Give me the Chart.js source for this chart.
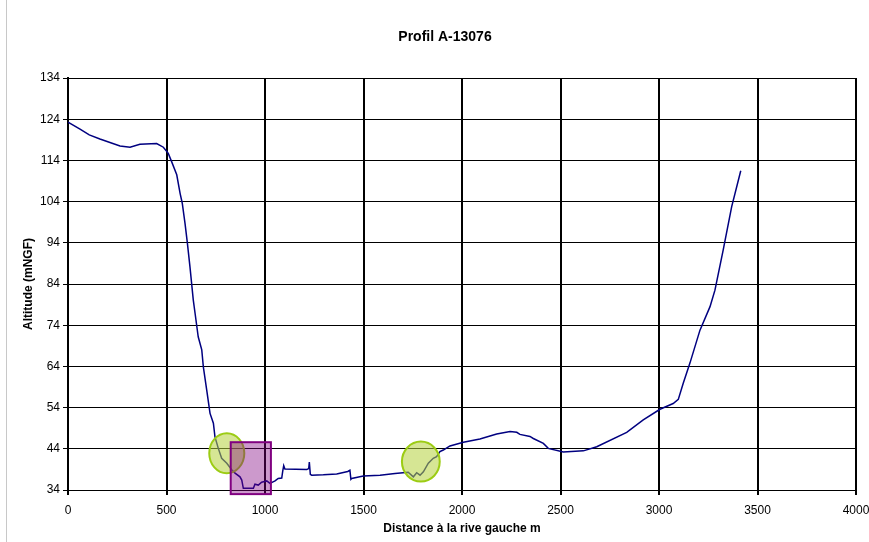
<!DOCTYPE html>
<html>
<head>
<meta charset="utf-8">
<script src="https://cdn.jsdelivr.net/npm/chart.js@4.4.1/dist/chart.umd.min.js"></script>
<style>
  html, body { margin: 0; padding: 0; background: #fff; }
  #wrap { position: relative; width: 869px; height: 542px; }
  #frame { position: absolute; left: 6px; top: 0; height: 542px; border-left: 1px solid #c8c8c8; }
</style>
</head>
<body>
<div id="wrap">
  <div id="frame"></div>
  <canvas id="profileChart" width="869" height="542"></canvas>
</div>
<script>
// Profile data (distance from left bank in m, altitude in mNGF)
const distances = [
  0, 61, 108, 162, 264, 315, 365, 450, 484, 509, 526, 552, 569, 580, 594, 606, 619, 636,
  645, 661, 679, 687, 704, 721, 738, 746, 763, 780, 806, 831, 848, 873, 882, 890, 941,
  949, 966, 983, 1009, 1025, 1051, 1067, 1085, 1090, 1095, 1101, 1212, 1222, 1225, 1230,
  1237, 1296, 1364, 1420, 1431, 1436, 1440, 1499, 1584, 1660, 1727, 1753, 1770, 1787,
  1804, 1829, 1854, 1871, 1888, 1905, 1939, 2007, 2091, 2176, 2244, 2278, 2294, 2345,
  2362, 2413, 2438, 2514, 2616, 2684, 2836, 2920, 3005, 3072, 3098, 3123, 3157, 3208,
  3259, 3284, 3326, 3369, 3415
];
const altitudes = [
  123.3, 121.6, 120.2, 119.2, 117.5, 117.2, 117.9, 118.1, 117.2, 115.7, 113.7, 110.5, 106.0, 103.6, 98.7, 93.9, 88.2, 80.1,
  76.9, 71.2, 68.0, 63.9, 58.3, 52.6, 50.2, 46.9, 44.1, 41.7, 40.5, 38.9, 38.1, 37.2, 36.4, 34.4, 34.4,
  35.4, 35.2, 35.9, 36.2, 35.6, 36.2, 36.8, 36.9, 38.6, 39.9, 39.1, 39.0, 39.2, 40.8, 37.8,
  37.6, 37.7, 37.9, 38.5, 38.8, 36.6, 36.8, 37.4, 37.6, 38.0, 38.3, 37.2, 38.2, 37.6,
  38.4, 40.5, 41.7, 42.1, 43.3, 43.7, 44.7, 45.6, 46.4, 47.6, 48.2, 48.0, 47.5, 47.0,
  46.5, 45.3, 44.1, 43.2, 43.5, 44.5, 48.0, 51.0, 53.6, 55.0, 56.0, 59.9, 64.8, 72.8,
  78.5, 82.5, 92.3, 102.8, 111.5
];
const xTicks = [0, 500, 1000, 1500, 2000, 2500, 3000, 3500, 4000];
const yTicks = [34, 44, 54, 64, 74, 84, 94, 104, 114, 124, 134];

// Highlighted zones (data units)
const ellipseCx = [806, 1791];
const ellipseCy = [42.9, 40.9];
const ellipseRx = [89, 96];
const ellipseRy = [4.85, 4.85];
const boxX = [826, 1030];
const boxY = [33.0, 45.6];

const FONT = "'Liberation Sans', Arial, sans-serif";

const overlayPlugin = {
  id: 'overlay',
  afterDatasetsDraw(chart) {
    const ctx = chart.ctx;
    const xs = chart.scales.x;
    const ys = chart.scales.y;
    ctx.save();

    // green ellipses
    for (let i = 0; i < ellipseCx.length; i++) {
      const cx = xs.getPixelForValue(ellipseCx[i]);
      const cy = ys.getPixelForValue(ellipseCy[i]);
      const rx = xs.getPixelForValue(ellipseCx[i] + ellipseRx[i]) - cx;
      const ry = cy - ys.getPixelForValue(ellipseCy[i] + ellipseRy[i]);
      ctx.beginPath();
      ctx.ellipse(cx, cy, rx, ry, 0, 0, Math.PI * 2);
      ctx.fillStyle = 'rgba(180, 210, 60, 0.55)';
      ctx.fill();
      ctx.lineWidth = 2;
      ctx.strokeStyle = '#9ccc14';
      ctx.stroke();
    }

    // purple box
    const x0 = xs.getPixelForValue(boxX[0]);
    const x1 = xs.getPixelForValue(boxX[1]);
    const y0 = ys.getPixelForValue(boxY[1]);
    const y1 = ys.getPixelForValue(boxY[0]);
    ctx.fillStyle = 'rgba(128, 0, 128, 0.4)';
    ctx.fillRect(x0, y0, x1 - x0, y1 - y0);
    ctx.lineWidth = 2;
    ctx.strokeStyle = '#800080';
    ctx.strokeRect(x0, y0, x1 - x0, y1 - y0);

    // chart title
    ctx.fillStyle = '#000';
    ctx.font = 'bold 14px ' + FONT;
    ctx.textAlign = 'center';
    ctx.textBaseline = 'middle';
    ctx.fillText('Profil A-13076', 445, 37);
    ctx.restore();
  }
};

const ctx = document.getElementById('profileChart').getContext('2d');
new Chart(ctx, {
  type: 'scatter',
  data: {
    datasets: [{
      label: 'Profil',
      data: distances.map((d, i) => ({ x: d, y: altitudes[i] })),
      showLine: true,
      borderColor: '#000080',
      borderWidth: 1.5,
      pointRadius: 0,
      tension: 0
    }]
  },
  options: {
    responsive: false,
    animation: false,
    layout: { padding: { top: 78, right: 13, left: 0, bottom: 0 } },
    plugins: {
      legend: { display: false },
      tooltip: { enabled: false }
    },
    scales: {
      x: {
        type: 'linear',
        min: 0,
        max: 4000,
        afterBuildTicks: axis => { axis.ticks = xTicks.map(v => ({ value: v })); },
        afterFit: scale => {
          scale.height = 52;
          scale.paddingLeft = 0;
          scale.paddingRight = 0;
        },
        grid: { color: '#000', lineWidth: 2, tickLength: 5, drawTicks: true },
        border: { color: '#000', width: 1 },
        ticks: {
          color: '#000',
          font: { family: FONT, size: 12 },
          padding: 8,
          maxRotation: 0,
          callback: value => String(value)
        },
        title: {
          display: true,
          text: 'Distance à la rive gauche m',
          color: '#000',
          font: { family: FONT, size: 12, weight: 'bold' },
          padding: { top: 0, bottom: 6 }
        }
      },
      y: {
        type: 'linear',
        min: 34,
        max: 134,
        afterBuildTicks: axis => { axis.ticks = yTicks.map(v => ({ value: v })); },
        afterFit: scale => { scale.width = 68; },
        grid: { color: '#000', lineWidth: 1, tickLength: 5 },
        border: { color: '#000', width: 2 },
        ticks: { color: '#000', font: { family: FONT, size: 12 }, padding: 3, callback: value => String(value) },
        title: {
          display: true,
          text: 'Altitude (mNGF)',
          color: '#000',
          font: { family: FONT, size: 12, weight: 'bold' },
          padding: { top: 21, bottom: 0 }
        }
      }
    }
  },
  plugins: [overlayPlugin]
});
</script>
</body>
</html>
